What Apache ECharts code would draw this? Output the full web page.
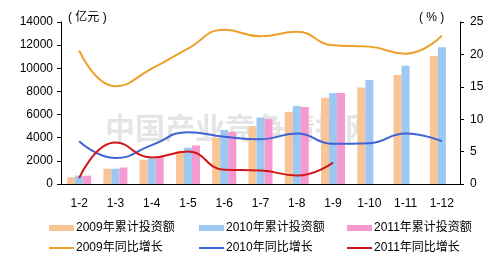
<!DOCTYPE html>
<html><head><meta charset="utf-8">
<script src="https://cdn.jsdelivr.net/npm/echarts@6/dist/echarts.min.js"></script>
<style>html,body{margin:0;padding:0;background:#fff}#c{width:500px;height:268px}</style>
</head><body><div id="c"></div>
<script>
const categories = ['1-2','1-3','1-4','1-5','1-6','1-7','1-8','1-9','1-10','1-11','1-12'];
const inv2009 = [580, 1320, 2090, 2810, 4000, 5000, 6230, 7460, 8350, 9410, 11070];
const inv2010 = [720, 1320, 2210, 3130, 4680, 5740, 6740, 7860, 8980, 10210, 11820];
const inv2011 = [720, 1430, 2320, 3330, 4500, 5620, 6660, 7860, null, null, null];
const gr2009 = [20.6, 15.1, 17.8, 20.9, 23.8, 22.8, 23.5, 21.4, 21.2, 20.1, 22.9];
const gr2010 = [6.6, 4.0, 6.0, 8.0, 7.3, 6.9, 7.8, 6.2, 6.3, 7.8, 6.6];
const gr2011 = [0.9, 6.4, 4.1, 5.0, 2.2, 2.1, 1.3, 3.3, null, null, null];
const leftTicks = [0, 14000, 2000];
const rightTicks = [0, 25, 5];
const barNames = ['2009年累计投资额', '2010年累计投资额', '2011年累计投资额'];
const lineNames = ['2009年同比增长', '2010年同比增长', '2011年同比增长'];

const font = 'Arial, "Liberation Sans", "Noto Sans CJK SC", sans-serif';
const c = echarts.init(document.getElementById('c'));
const barColors = ['#FAC596', '#9CC8F2', '#F59AD0'];
const lineColors = ['#EDA02A', '#3F63D4', '#D01818'];
function bar(name, data, color) {
  return {name, type: 'bar', data, barWidth: 8, barGap: '0%', itemStyle: {color}, yAxisIndex: 0};
}
function line(name, data, color) {
  return {name, type: 'line', data, smooth: 0.5, symbol: 'none', yAxisIndex: 1,
    lineStyle: {color, width: 2}, itemStyle: {color}};
}
const colX = [49, 199, 347];
const legends = [];
barNames.forEach((n, i) => legends.push({left: colX[i], top: 222, itemWidth: 25, itemHeight: 6, itemGap: 2, icon: 'rect', padding: 0,
  textStyle: {fontSize: 12, color: '#000', fontFamily: font, padding: [0, 0, 0, -3]}, data: [n]}));
lineNames.forEach((n, i) => legends.push({left: colX[i], top: 242, itemWidth: 25, itemHeight: 2, itemGap: 2, icon: 'rect', padding: 0,
  textStyle: {fontSize: 12, color: '#000', fontFamily: font, padding: [0, 0, 0, -3]}, data: [n]}));
c.setOption({
  animation: false,
  textStyle: {fontFamily: font},
  grid: {left: 61, right: 40, top: 22, bottom: 84},
  graphic: [
    {type: 'text', left: 68, top: 12, style: {text: '( 亿元 )', font: '12px ' + font, fill: '#000'}},
    {type: 'text', left: 419, top: 12, style: {text: '( % )', font: '12px ' + font, fill: '#000'}},
    {type: 'text', left: 105, top: 113, z: 0, style: {text: '中国产业竞争情报网', font: 'bold 30px "Noto Sans CJK SC", sans-serif', fill: 'rgba(190,190,190,0.4)', letterSpacing: 6}}
  ],
  legend: legends,
  xAxis: {type: 'category', data: categories,
    axisLine: {lineStyle: {color: '#000', width: 1}},
    axisTick: {inside: true, length: 5, lineStyle: {color: '#000'}},
    axisLabel: {color: '#000', fontSize: 12, margin: 14}},
  yAxis: [
    {type: 'value', min: leftTicks[0], max: leftTicks[1], interval: leftTicks[2],
     axisLine: {show: true, lineStyle: {color: '#000'}},
     axisTick: {show: true, length: 4, lineStyle: {color: '#000'}},
     splitLine: {show: false},
     axisLabel: {color: '#000', fontSize: 12, margin: 8, formatter: v => String(v)}},
    {type: 'value', min: rightTicks[0], max: rightTicks[1], interval: rightTicks[2],
     axisLine: {show: true, lineStyle: {color: '#000'}},
     axisTick: {show: true, length: 4, lineStyle: {color: '#000'}},
     splitLine: {show: false},
     axisLabel: {color: '#000', fontSize: 12, margin: 10}}
  ],
  series: [
    bar(barNames[0], inv2009, barColors[0]),
    bar(barNames[1], inv2010, barColors[1]),
    bar(barNames[2], inv2011, barColors[2]),
    line(lineNames[0], gr2009, lineColors[0]),
    line(lineNames[1], gr2010, lineColors[1]),
    line(lineNames[2], gr2011, lineColors[2])
  ]
});
</script></body></html>
